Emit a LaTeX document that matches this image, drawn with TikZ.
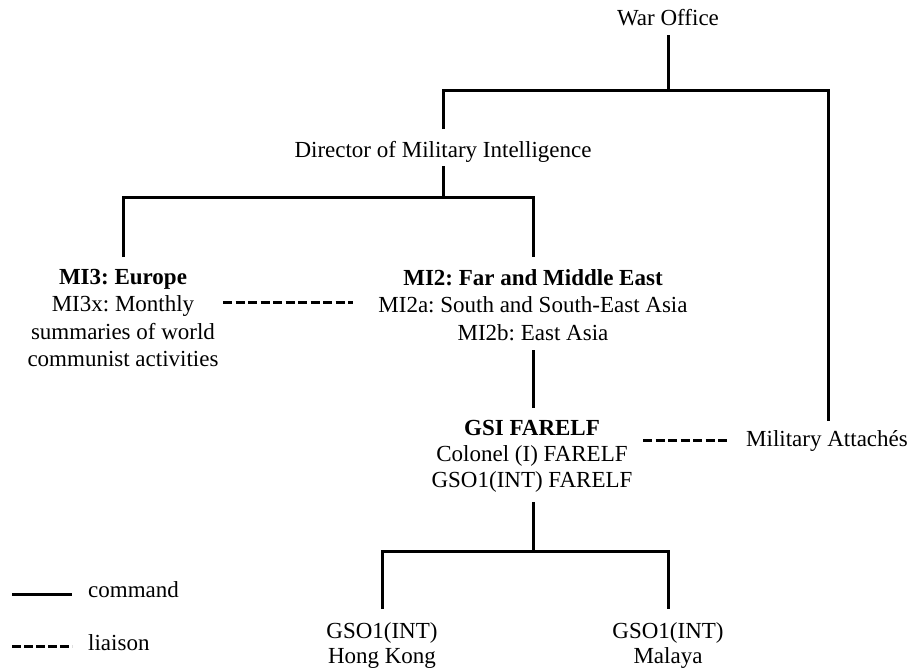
\documentclass[tikz,border=0pt]{standalone}
\usepackage{fontspec}
\setmainfont{Liberation Serif}
\frenchspacing
\begin{document}
\begin{tikzpicture}[x=1pt,y=-1pt,
  lbl/.style={font=\fontsize{23}{27.5}\selectfont\frenchspacing, align=center, inner sep=0pt, anchor=base},
  lblA/.style={lbl, font=\fontsize{23}{26}\selectfont\frenchspacing},
  lblB/.style={lbl, font=\fontsize{23}{25}\selectfont\frenchspacing},
  cmd/.style={line width=3pt},
  lia/.style={line width=3pt, dash pattern=on 9pt off 3.5pt}]
\useasboundingbox (0,0) rectangle (907,670);
% nodes (base = baseline of the last line)
\node[lbl] (wo) at (668,25) {War Office};
\node[lbl] (dmi) at (443,157) {Director of Military Intelligence};
\node[lbl] (mi3) at (123,366.5) {\textbf{MI3: Europe}\\MI3x: Monthly\\summaries of world\\communist activities};
\node[lbl] (mi2) at (533,340) {\textbf{MI2: Far and Middle East}\\MI2a: South and South-East Asia\\MI2b: East Asia};
\node[lblA] (gsi) at (532,487) {\textbf{GSI FARELF}\\Colonel (I) FARELF\\GSO1(INT) FARELF};
\node[lbl] (ma) at (827,446) {Military Attachés};
\node[lblB] (hk) at (382,663) {GSO1(INT)\\Hong Kong};
\node[lblB] (ml) at (668,663) {GSO1(INT)\\Malaya};
\node[lbl, anchor=base west] (lc) at (88,597) {command};
\node[lbl, anchor=base west] (ll) at (88,650) {liaison};
% junctions
\coordinate (j1) at (668,90);
\coordinate (jL) at (443,90);
\coordinate (jR) at (828,90);
\coordinate (j2) at (443,197);
\coordinate (j2L) at (123,197);
\coordinate (j2R) at (533,197);
\coordinate (j3) at (533,551);
\coordinate (j3L) at (382,551);
\coordinate (j3R) at (668,551);
% command lines
\draw[cmd] (wo.base |- 0,35) -- (j1);
\draw[cmd] (jL |- 0,129) -- (jL) -- (jR) -- (jR |- 0,421);
\draw[cmd] (j2 |- 0,166) -- (j2);
\draw[cmd] (j2L |- 0,257) -- (j2L) -- (j2R) -- (j2R |- 0,257);
\draw[cmd] (j2R |- 0,350) -- (j2R |- 0,408);
\draw[cmd] (j3 |- 0,502) -- (j3);
\draw[cmd] (j3L |- 0,609) -- (j3L) -- (j3R) -- (j3R |- 0,609);
% liaison lines
\draw[lia] (223,302) -- (353,302);
\draw[lia] (643,440) -- (728,440);
% legend
\draw[cmd] (lc.base west) ++(-76,-3) -- ++(60,0);
\draw[lia, dash pattern=on 9pt off 3pt] (ll.base west) ++(-76,-4) -- ++(60,0);
\end{tikzpicture}
\end{document}
